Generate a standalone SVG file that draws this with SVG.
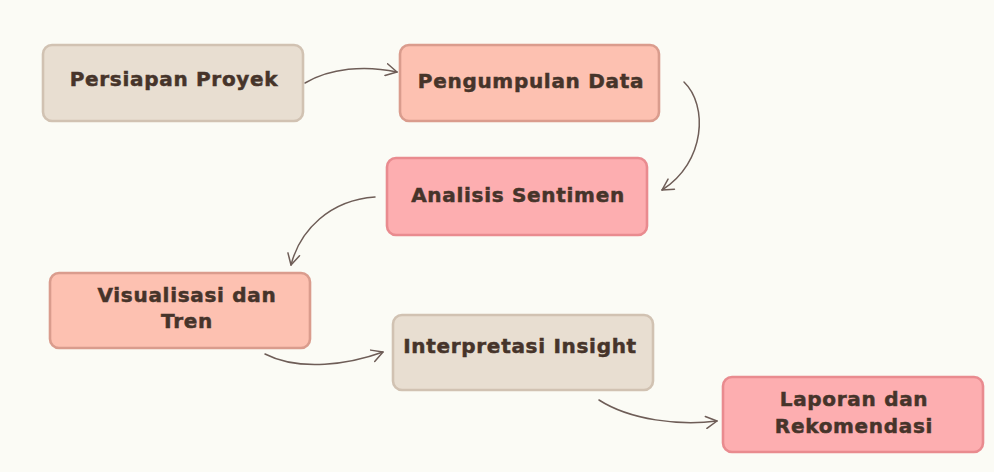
<svg xmlns="http://www.w3.org/2000/svg" width="994" height="472" viewBox="0 0 994 472">
  <style>
    .box { stroke-width: 2.6; }
    .beige { fill: #e8ded1; stroke: #d1c2b2; }
    .salmon { fill: #fdc1b1; stroke: #da9c8d; }
    .pink { fill: #fdaeb0; stroke: #e98b8f; }
    .lbl { font-family: "DejaVu Sans", "Liberation Sans", sans-serif; font-weight: bold; font-size: 20px; letter-spacing: 0.7px; fill: #46342a; stroke: #46342a; stroke-width: 0.5; text-anchor: middle; }
    .conn { fill: none; stroke: #6e5d57; stroke-width: 1.5; stroke-linecap: round; }
  </style>
  <defs>
    <marker id="arr" viewBox="0 0 14 14" refX="12" refY="7" markerWidth="14" markerHeight="14" markerUnits="userSpaceOnUse" orient="auto">
      <path d="M1,1 L12,7 L1,13" fill="none" stroke="#6e5d57" stroke-width="1.5" stroke-linecap="round" stroke-linejoin="round"/>
    </marker>
  </defs>
  <rect x="0" y="0" width="994" height="472" fill="#fbfbf5"/>

  <g id="connectors">
    <path class="conn" d="M305,83 C330,68 365,65 397,72" marker-end="url(#arr)"/>
    <path class="conn" d="M684,82 C708,105 706,162 662,190" marker-end="url(#arr)"/>
    <path class="conn" d="M375,197 C330,200 300,230 291,265" marker-end="url(#arr)"/>
    <path class="conn" d="M265,354 C300,372 350,364 383,352" marker-end="url(#arr)"/>
    <path class="conn" d="M599,400 C630,420 680,426 717,421" marker-end="url(#arr)"/>
  </g>

  <g id="node-persiapan">
    <rect class="box beige" x="43" y="45" width="260" height="76" rx="9"/>
    <text class="lbl" x="174" y="86">Persiapan Proyek</text>
  </g>
  <g id="node-pengumpulan">
    <rect class="box salmon" x="400" y="45" width="259" height="76" rx="9"/>
    <text class="lbl" x="531" y="88">Pengumpulan Data</text>
  </g>
  <g id="node-analisis">
    <rect class="box pink" x="387" y="158" width="260" height="77" rx="9"/>
    <text class="lbl" x="518" y="202">Analisis Sentimen</text>
  </g>
  <g id="node-visualisasi">
    <rect class="box salmon" x="50" y="273" width="260" height="75" rx="9"/>
    <text class="lbl" x="187" y="302">Visualisasi dan</text>
    <text class="lbl" x="187" y="328">Tren</text>
  </g>
  <g id="node-interpretasi">
    <rect class="box beige" x="393" y="315" width="260" height="75" rx="9"/>
    <text class="lbl" x="520" y="353">Interpretasi Insight</text>
  </g>
  <g id="node-laporan">
    <rect class="box pink" x="723" y="377" width="260" height="75" rx="9"/>
    <text class="lbl" x="854" y="406">Laporan dan</text>
    <text class="lbl" x="854" y="433">Rekomendasi</text>
  </g>
</svg>
